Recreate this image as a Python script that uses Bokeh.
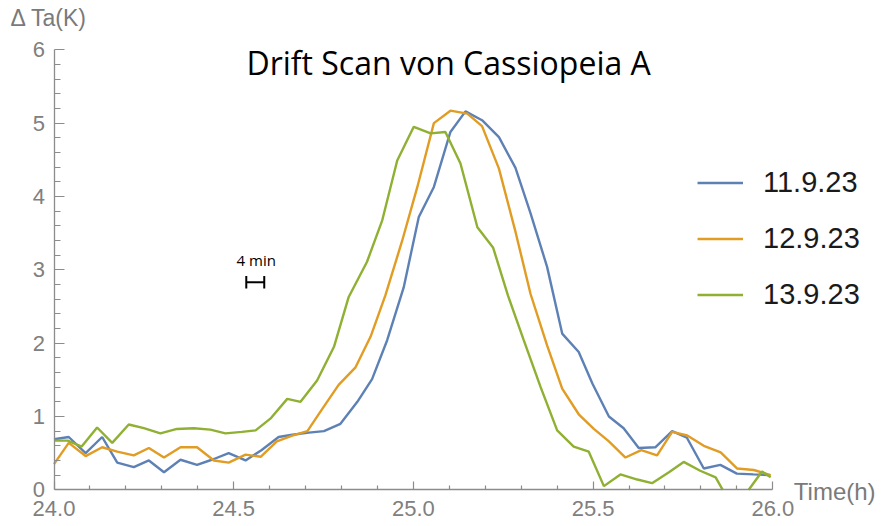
from bokeh.plotting import figure
from bokeh.models import Range1d, FixedTicker, Label, Legend, LegendItem, NumeralTickFormatter
from bokeh.embed import file_html
from bokeh.resources import INLINE

# ---------------- data ----------------
series_names = ["11.9.23", "12.9.23", "13.9.23"]
series_colors = ["#5E81B5", "#E19C24", "#8FB032"]

blue_t = [24.000, 24.041, 24.088, 24.134, 24.176, 24.222, 24.264, 24.306, 24.352, 24.398,
          24.445, 24.486, 24.533, 24.577, 24.625, 24.663, 24.709, 24.751, 24.797, 24.844,
          24.885, 24.927, 24.973, 25.015, 25.057, 25.103, 25.145, 25.191, 25.238, 25.284,
          25.326, 25.372, 25.414, 25.460, 25.498, 25.544, 25.585, 25.627, 25.673, 25.720,
          25.761, 25.808, 25.854, 25.900, 25.946, 25.993]
blue_v = [0.69, 0.72, 0.50, 0.72, 0.37, 0.31, 0.40, 0.24, 0.41, 0.34,
          0.42, 0.50, 0.40, 0.54, 0.72, 0.75, 0.78, 0.80, 0.90, 1.20,
          1.51, 2.04, 2.76, 3.72, 4.13, 4.88, 5.16, 5.04, 4.81, 4.39,
          3.77, 3.04, 2.13, 1.88, 1.45, 1.00, 0.84, 0.57, 0.58, 0.80,
          0.71, 0.29, 0.34, 0.22, 0.21, 0.20]

orange_t = [24.000, 24.041, 24.088, 24.134, 24.176, 24.222, 24.264, 24.306, 24.352, 24.398,
            24.445, 24.486, 24.533, 24.575, 24.620, 24.663, 24.705, 24.746, 24.792, 24.839,
            24.881, 24.922, 24.969, 25.011, 25.057, 25.103, 25.150, 25.191, 25.238, 25.284,
            25.326, 25.372, 25.414, 25.460, 25.502, 25.544, 25.590, 25.634, 25.678, 25.720,
            25.762, 25.808, 25.855, 25.901, 25.947, 25.994]
orange_v = [0.35, 0.64, 0.46, 0.58, 0.52, 0.47, 0.57, 0.44, 0.58, 0.58,
            0.40, 0.37, 0.48, 0.45, 0.66, 0.74, 0.80, 1.10, 1.43, 1.67,
            2.09, 2.65, 3.40, 4.13, 5.00, 5.17, 5.13, 4.96, 4.38, 3.52,
            2.67, 1.97, 1.38, 1.03, 0.83, 0.66, 0.44, 0.54, 0.47, 0.79,
            0.74, 0.60, 0.51, 0.29, 0.27, 0.20]

green_t = [24.000, 24.038, 24.077, 24.120, 24.162, 24.208, 24.250, 24.296, 24.342, 24.389,
           24.435, 24.477, 24.523, 24.561, 24.602, 24.649, 24.686, 24.732, 24.779, 24.820,
           24.871, 24.913, 24.955, 25.001, 25.048, 25.089, 25.131, 25.178, 25.222, 25.263,
           25.307, 25.354, 25.400, 25.446, 25.488, 25.530, 25.576, 25.623, 25.664, 25.711,
           25.752, 25.798, 25.841, 25.886, 25.930, 25.970, 25.994]
green_v = [0.67, 0.67, 0.59, 0.85, 0.64, 0.89, 0.84, 0.77, 0.83, 0.84,
           0.82, 0.77, 0.79, 0.81, 0.97, 1.24, 1.20, 1.49, 1.95, 2.63,
           3.11, 3.67, 4.49, 4.95, 4.86, 4.88, 4.45, 3.58, 3.30, 2.65,
           2.04, 1.40, 0.81, 0.59, 0.52, 0.05, 0.21, 0.14, 0.09, 0.24,
           0.38, 0.26, 0.17, -0.22, -0.02, 0.25, 0.17]

x_ticks = [24.0, 24.5, 25.0, 25.5, 26.0]
x_tick_labels = ["24.0", "24.5", "25.0", "25.5", "26.0"]
x_minor = [24.1, 24.2, 24.3, 24.4, 24.6, 24.7, 24.8, 24.9, 25.1, 25.2, 25.3, 25.4,
           25.6, 25.7, 25.8, 25.9]
y_ticks = [0, 1, 2, 3, 4, 5, 6]
y_minor = [0.2, 0.4, 0.6, 0.8, 1.2, 1.4, 1.6, 1.8, 2.2, 2.4, 2.6, 2.8, 3.2, 3.4, 3.6, 3.8,
           4.2, 4.4, 4.6, 4.8, 5.2, 5.4, 5.6, 5.8]
x_axis_bounds = (24, 26)
y_axis_bounds = (0, 6)

title_text = "Drift Scan von Cassiopeia A"
x_label = "Time(h)"
y_label = "\u0394 Ta(K)"
scale_label = "4 min"
scale_bar_x = [24.535, 24.585]
scale_bar_y = 2.83


def clip_at_floor(ts, vs, floor):
    """Cut a polyline where it goes below the plotted range (as the original plot does)."""
    nan = float("nan")
    out_t, out_v = [], []
    for i, (t, v) in enumerate(zip(ts, vs)):
        if i > 0:
            t0, v0 = ts[i - 1], vs[i - 1]
            if (v0 >= floor) != (v >= floor):
                tc = t0 + (floor - v0) * (t - t0) / (v - v0)
                out_t.append(tc)
                out_v.append(floor)
                if v < floor:
                    out_t.append(nan)
                    out_v.append(nan)
        if v >= floor:
            out_t.append(t)
            out_v.append(v)
    return out_t, out_v


# ---------------- figure ----------------
W, H = 880, 524
PX_PER_H = 359.4
PX_PER_K = 73.333
X0_PX, Y0_PX = 53.5, 489.3
x_start = x_axis_bounds[0] - X0_PX / PX_PER_H
x_end = x_axis_bounds[0] + (W - X0_PX) / PX_PER_H
y_start = y_axis_bounds[0] - (H - Y0_PX) / PX_PER_K
y_end = y_axis_bounds[0] + Y0_PX / PX_PER_K

p = figure(width=W, height=H, output_backend="svg", toolbar_location=None,
           x_range=Range1d(x_start, x_end), y_range=Range1d(y_start, y_end),
           min_border=0, min_border_left=0, min_border_right=0,
           min_border_top=0, min_border_bottom=0)
p.outline_line_color = None
p.grid.visible = False
p.background_fill_color = "white"
p.border_fill_color = "white"

xa = p.xaxis[0]
ya = p.yaxis[0]
xa.fixed_location = y_axis_bounds[0]
ya.fixed_location = x_axis_bounds[0]
xa.bounds = x_axis_bounds
ya.bounds = y_axis_bounds
xa.ticker = FixedTicker(ticks=x_ticks, minor_ticks=x_minor)
xa.formatter = NumeralTickFormatter(format="0.0")
xa.major_label_overrides = {t: lab for t, lab in zip(x_ticks, x_tick_labels)}
ya.ticker = FixedTicker(ticks=y_ticks, minor_ticks=y_minor)

for ax in (xa, ya):
    ax.axis_line_color = "#8c8c8c"
    ax.axis_line_width = 1.3
    ax.major_tick_line_color = "#8c8c8c"
    ax.minor_tick_line_color = "#8c8c8c"
    ax.major_tick_line_width = 1.2
    ax.minor_tick_line_width = 1.2
    ax.major_tick_out = 0
    ax.minor_tick_out = 0
    ax.major_label_text_color = "#808080"
    ax.major_label_text_font = "Liberation Sans"
    ax.major_label_text_font_size = "22px"
xa.major_tick_in = 8
xa.minor_tick_in = 4
xa.major_label_standoff = 11
ya.major_tick_in = 10
ya.minor_tick_in = 6
ya.major_label_standoff = 9

renderers = []
for ts, vs, col in ((blue_t, blue_v, series_colors[0]),
                    (orange_t, orange_v, series_colors[1]),
                    (green_t, green_v, series_colors[2])):
    ct, cv = clip_at_floor(ts, vs, y_axis_bounds[0])
    r = p.line(ct, cv, line_color=col, line_width=2.4)
    renderers.append(r)

legend = Legend(items=[LegendItem(label=n, renderers=[r]) for n, r in zip(series_names, renderers)],
                location=(697, 213), padding=0, margin=0, spacing=23,
                glyph_width=46, glyph_height=33, label_height=33, label_standoff=20,
                label_text_font="Liberation Sans", label_text_font_size="29px",
                label_text_color="#1a1a1a", border_line_alpha=0, background_fill_alpha=0)
p.add_layout(legend)

# scale bar ("H")
p.segment(x0=[scale_bar_x[0]], y0=[scale_bar_y], x1=[scale_bar_x[1]], y1=[scale_bar_y],
          line_color="black", line_width=2)
p.segment(x0=scale_bar_x, y0=[scale_bar_y - 0.085] * 2, x1=scale_bar_x, y1=[scale_bar_y + 0.085] * 2,
          line_color="black", line_width=2)

p.add_layout(Label(x=24.508, y=3.13, text=scale_label, text_font="Open Sans",
                   text_font_size="15px", text_color="black", text_baseline="alphabetic"))
p.add_layout(Label(x=25.098, y=5.83, text=title_text, text_font="Open Sans",
                   text_font_size="32px", text_color="black", text_align="center",
                   text_baseline="alphabetic"))
p.add_layout(Label(x=26.0584, y=-0.025, text=x_label, text_font="Liberation Sans",
                   text_font_size="24px", text_color="#7a7a7a", text_baseline="alphabetic"))
p.add_layout(Label(x=23.879, y=6.44, text=y_label, text_font="Liberation Sans",
                   text_font_size="23px", text_color="#7a7a7a", text_baseline="alphabetic"))

open("out.html", "w").write(file_html(p, INLINE))
